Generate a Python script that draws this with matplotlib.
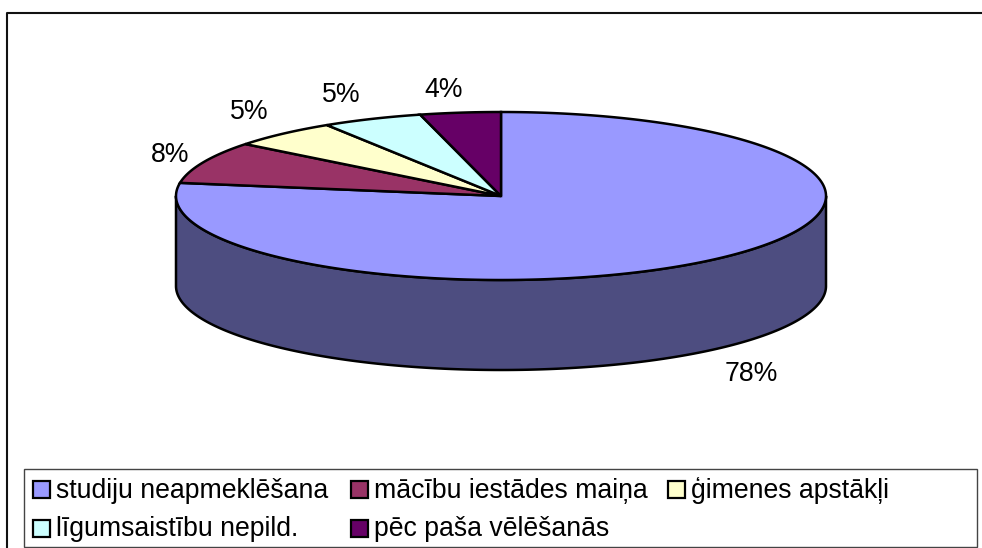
import numpy as np
import matplotlib
matplotlib.use("Agg")
import matplotlib.pyplot as plt
from matplotlib.patches import Polygon, Rectangle

categories = ["studiju neapmeklēšana", "mācību iestādes maiņa", "ģimenes apstākļi",
              "līgumsaistību nepild.", "pēc paša vēlēšanās"]
values = [77.5, 8.1, 5.4, 5.0, 4.0]
top_colors = ["#9999FF", "#993366", "#FFFFCC", "#CCFFFF", "#660066"]
side_colors = ["#4D4D80", "#4D1A33", "#808066", "#668080", "#330033"]

W, H = 982, 548
plt.rcParams['font.family'] = ['Liberation Sans', 'DejaVu Sans']
FS = 19.2
fig = plt.figure(figsize=(W / 100, H / 100), dpi=100, facecolor="white")
ax = fig.add_axes([0, 0, 1, 1])
ax.set_xlim(0, W)
ax.set_ylim(H, 0)
ax.axis("off")

# outer chart frame (runs off the right and bottom of the picture)
ax.plot([7, 7, W + 5], [H + 5, 13, 13], color="#111111", lw=1.5, zorder=1)

cx, cy, rx, ry, depth = 501, 196, 325, 84, 90
LW = 1.8


def pts(a0, a1, dy=0.0):
    n = max(2, int(abs(a1 - a0) * 2))
    t = np.radians(np.linspace(a0, a1, n))
    return np.column_stack([cx + rx * np.cos(t), cy - ry * np.sin(t) + dy])


fracs = np.array(values) / sum(values)
ends = 90 - 360 * np.cumsum(fracs)
starts = np.concatenate([[90], ends[:-1]])

# side walls: only the front half of the ellipse (angles -180..0)
for a0, a1, col in zip(starts, ends, side_colors):
    lo, hi = max(a1, -180), min(a0, 0)
    if hi > lo:
        upper = pts(hi, lo)
        lower = pts(lo, hi, depth)
        ax.add_patch(Polygon(np.vstack([upper, lower]), closed=True, fc=col, ec="black",
                             lw=LW, joinstyle="round", zorder=2))

# top faces
for a0, a1, col in zip(starts, ends, top_colors):
    arc = pts(a0, a1)
    ax.add_patch(Polygon(np.vstack([[cx, cy], arc]), closed=True, fc=col, ec="black",
                         lw=LW, joinstyle="miter", zorder=3))

# percentage labels
label_xy = [(751, 374), (170, 155), (249, 112), (341, 95), (444, 90)]
for v, (x, y) in zip(values, label_xy):
    ax.text(x, y, f"{v:.0f}%", ha="center", va="center", fontsize=FS, color="black", zorder=5)

# legend
ax.add_patch(Rectangle((24, 469), 953, 78, fc="white", ec="#444444", lw=1.0, zorder=4))
legend_xy = [(33, 481), (351, 481), (668, 481), (33, 520), (351, 520)]
for name, col, (x, y) in zip(categories, top_colors, legend_xy):
    ax.add_patch(Rectangle((x, y), 17, 17, fc=col, ec="black", lw=1.6, zorder=5))
    ax.text(x + 23, y + 16.5, name, ha="left", va="baseline", fontsize=FS, color="black", zorder=5)

fig.savefig("out.png", dpi=100, facecolor="white")
